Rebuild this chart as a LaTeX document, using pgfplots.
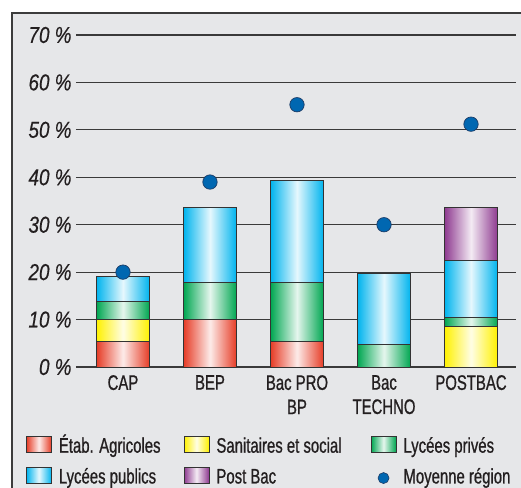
\documentclass[border=0pt]{standalone}
\usepackage{fontspec}
\setmainfont{Liberation Sans}[FakeStretch=0.71, FakeBold=0.8]
\newfontfamily\tickfont{Liberation Sans}[FakeStretch=0.82, FakeBold=0.4]
\usepackage{pgfplots}
\pgfplotsset{compat=1.18}
\definecolor{bgcol}{HTML}{E6E7E9}
\definecolor{framecol}{HTML}{3C3C3C}
\definecolor{gridcol}{HTML}{3A3A3A}
\definecolor{baredge}{HTML}{333333}
\definecolor{txtcol}{HTML}{231F20}
\definecolor{redc}{HTML}{E63C26}
\definecolor{yelc}{HTML}{FFF100}
\definecolor{grnc}{HTML}{00A651}
\definecolor{bluc}{HTML}{00B4EE}
\definecolor{purc}{HTML}{8E3A90}
\definecolor{dotcol}{HTML}{0067B1}
\definecolor{dotedge}{HTML}{1D3C66}
\pgfplotsset{
  mybar/.style={ybar, bar width=53bp, bar shift=0pt, draw=baredge, line width=0.9bp,
     left color=#1, right color=#1, middle color=#1!10!white, forget plot},
  swatch/.style={draw=baredge, line width=0.9bp, left color=#1, right color=#1, middle color=#1!10!white,
     legend image code/.code={\path[##1] (0bp,-5bp) rectangle (25bp,11.2bp);}},
  dotlegend/.style={legend image code/.code={\path[fill=dotcol, draw=dotedge, line width=0.6bp] (12.5bp,0.2bp) circle (5.5bp);}},
}
% one bar segment: colour, category index, cumulative top
\newcommand\seg[3]{\addplot[mybar=#1] coordinates {(#2,#3)};}
\begin{document}
\begin{tikzpicture}
\path[use as bounding box] (-76bp,-121bp) rectangle (445bp,367bp);
\clip (-76bp,-121bp) rectangle (445bp,367bp);
\fill[bgcol] (-64bp,-130bp) rectangle (450bp,354bp);
\draw[framecol, line width=1.5bp] (-64bp,-130bp) -- (-64bp,354bp) -- (450bp,354bp);
\begin{axis}[at={(0,0)}, anchor=south west, scale only axis,
  width=440bp, height=332bp,
  xmin=-0.540, xmax=4.517, ymin=0, ymax=70,
  axis line style={draw=none}, major tick length=0pt,
  ytick={0,10,...,70}, xtick={0,1,2,3,4},
  xticklabels={CAP, BEP, {Bac PRO\\BP}, {Bac\\TECHNO}, POSTBAC},
  /pgf/number format/assume math mode=true,
  yticklabel={\pgfmathprintnumber{\tick} \%},
  yticklabel style={font=\tickfont\itshape\fontsize{23bp}{23bp}\selectfont, text=txtcol, anchor=east, inner sep=0pt, xshift=-4.3bp},
  xticklabel style={font=\fontsize{21bp}{24.3bp}\selectfont, text=txtcol, align=center, anchor=north, inner sep=0pt, yshift=-8bp},
  ymajorgrids, grid style={gridcol, line width=1.1bp},
  clip=false,
  legend columns=3,
  legend cell align=left,
  legend style={draw=none, fill=none, inner sep=0pt, outer sep=0pt, row sep=9.4bp,
     font=\fontsize{21bp}{25bp}\selectfont, text=txtcol,
     nodes={inner sep=0pt, text height=15bp, text depth=4.5bp},
     /tikz/every odd column/.append style={column sep=7bp},
     /tikz/every even column/.append style={column sep=23bp},
     at={(axis description cs:-0.11364,-0.2072)}, anchor=north west},
]
% cumulative heights of the stacked segments, top segment drawn first
% Post Bac
\seg{purc}{4}{33.7}
% Lycees publics
\seg{bluc}{0}{19.1}
\seg{bluc}{1}{33.6}
\seg{bluc}{2}{39.3}
\seg{bluc}{3}{19.7}
\seg{bluc}{4}{22.5}
% Lycees prives
\seg{grnc}{0}{13.9}
\seg{grnc}{1}{17.9}
\seg{grnc}{2}{17.9}
\seg{grnc}{3}{4.7}
\seg{grnc}{4}{10.5}
% Sanitaires et social
\seg{yelc}{0}{10.1}
\seg{yelc}{4}{8.6}
% Etab. Agricoles
\seg{redc}{0}{5.3}
\seg{redc}{1}{10.0}
\seg{redc}{2}{5.3}
% Moyenne region
\addplot[only marks, mark=*, mark size=7.2bp, mark options={fill=dotcol, draw=dotedge, line width=0.7bp}, forget plot]
  coordinates {(0,20) (1,39) (2,55.3) (3,30) (4,51.2)};
\addlegendimage{swatch=redc}
\addlegendentry{Étab. Agricoles}
\addlegendimage{swatch=yelc}
\addlegendentry{Sanitaires et social\hspace*{6bp}}
\addlegendimage{swatch=grnc}
\addlegendentry{Lycées privés}
\addlegendimage{swatch=bluc}
\addlegendentry{Lycées publics}
\addlegendimage{swatch=purc}
\addlegendentry{Post Bac}
\addlegendimage{dotlegend}
\addlegendentry{Moyenne région}
\end{axis}
\end{tikzpicture}
\end{document}
